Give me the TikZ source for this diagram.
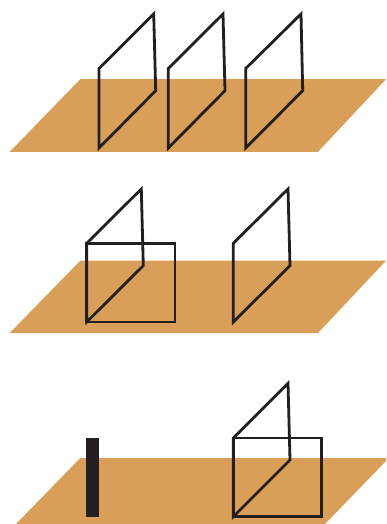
\documentclass[tikz,border=0pt]{standalone}
\definecolor{planecol}{HTML}{D99F58}
\definecolor{inkcol}{HTML}{231F20}
\tikzset{
  plane/.style={fill=planecol,draw=none},
  frame/.style={draw=inkcol,line width=2.8pt,miter limit=10},
  bar/.style={fill=inkcol,draw=none}
}
\begin{document}
\begin{tikzpicture}[x=1pt,y=-1pt]
\useasboundingbox (0,0) rectangle (386,524);
% planes
\fill[plane] (9.7,151.8) -- (80.3,79.2) -- (386,79.2) -- (318,151.8) -- cycle;
\fill[plane] (9.7,333) -- (80.3,260.7) -- (386,260.7) -- (318,333) -- cycle;
\fill[plane] (16,524) -- (80.3,458) -- (386,458) -- (386,461) -- (325,524) -- cycle;
% row 1
\draw[frame] (99,148) -- (99,68.5) -- (153.7,14) -- (155.7,90.7) -- cycle;
\draw[frame] (168.3,148) -- (168.3,68.5) -- (223,14) -- (225,90.7) -- cycle;
\draw[frame] (245.7,148) -- (245.7,68.5) -- (301,14) -- (302.7,90.7) -- cycle;
% row 2
\draw[frame] (86.7,322) -- (86.7,243.3) -- (141.3,189) -- (143.3,265.7) -- cycle;
\draw[frame] (86.7,243.3) rectangle (175,322);
\draw[frame] (233.3,322) -- (233.3,243.3) -- (288,189) -- (290,265.7) -- cycle;
% row 3
\fill[bar] (86.3,438) rectangle (99,516.8);
\draw[frame] (233.3,516.7) -- (233.3,438) -- (288,383.3) -- (290,460) -- cycle;
\draw[frame] (233.3,438) rectangle (321.7,516.7);
\end{tikzpicture}
\end{document}
